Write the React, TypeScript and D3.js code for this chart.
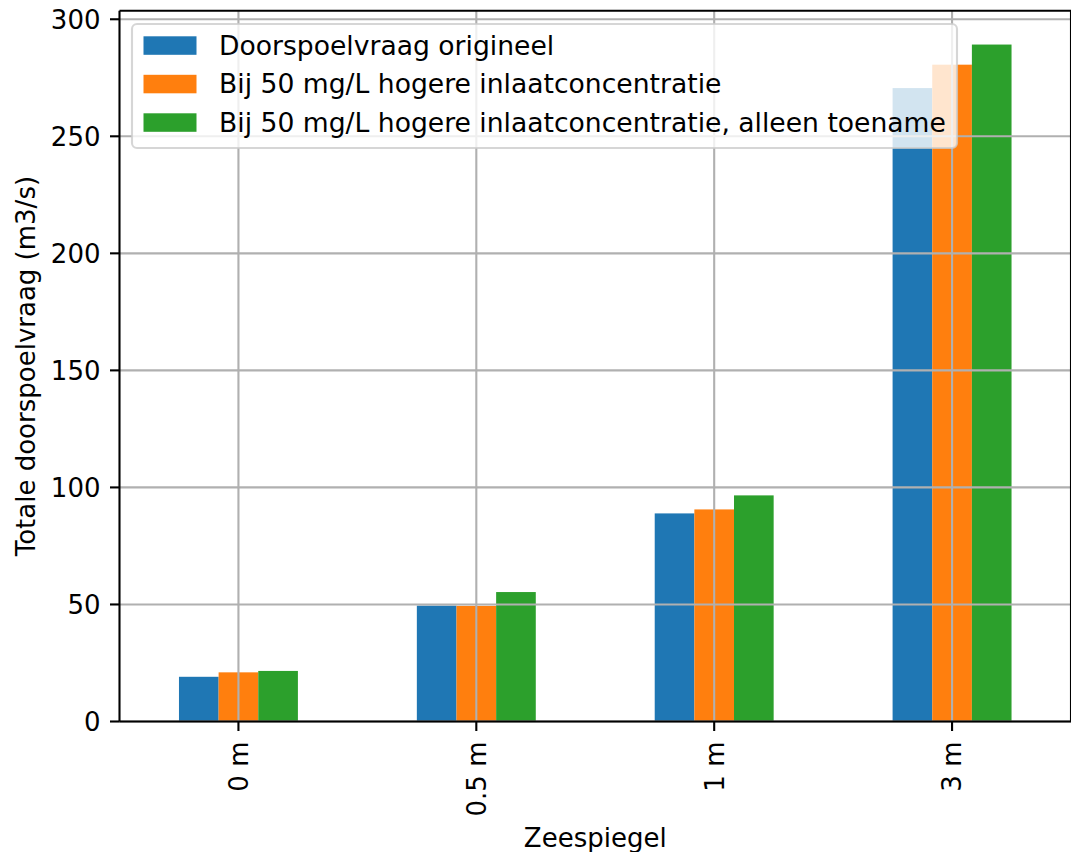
import React from "react";
import * as d3 from "d3";

const categories = ["0 m", "0.5 m", "1 m", "3 m"];
const seriesNames = [
  "Doorspoelvraag origineel",
  "Bij 50 mg/L hogere inlaatconcentratie",
  "Bij 50 mg/L hogere inlaatconcentratie, alleen toename",
];
const origineel = [19.1, 49.5, 88.9, 270.6];
const hoger = [21.0, 49.4, 90.6, 280.6];
const toename = [21.6, 55.3, 96.6, 289.2];
const yTicks = [0, 50, 100, 150, 200, 250, 300];
const colors = ["#1f77b4", "#ff7f0e", "#2ca02c"];

const W = 1071;
const H = 852;
const left = 119.5;
const right = 1071;
const top = 10.7;
const bottom = 721.5;
const FONT = "DejaVu Sans, sans-serif";
const FS = 26;
const LFS = 26.6;

export default function App() {
  const series = [origineel, hoger, toename];
  const maxV = d3.max(series.flat()) as number;
  const y = d3.scaleLinear().domain([0, maxV * 1.05]).range([bottom, top]);
  const x = d3.scaleLinear().domain([-0.5, categories.length - 0.5]).range([left, right]);
  const barW = (0.5 / 3) * (x(1) - x(0));
  const lw = 2.1;
  const tl = 9.5;

  return (
    <div style={{ position: "absolute", left: 0, top: 0 }}>
      <svg width={W} height={H} style={{ display: "block", background: "#fff" }} fontFamily={FONT}>
        {/* bars */}
        {series.map((vals, si) =>
          vals.map((v, ci) => {
            const cx = x(ci);
            const x0 = cx - 1.5 * barW + si * barW;
            return (
              <rect key={`b${si}-${ci}`} x={x0} y={y(v)} width={barW} height={y(0) - y(v)} fill={colors[si]} />
            );
          })
        )}
        {/* grid */}
        {yTicks.map((t) => (
          <line key={`gy${t}`} x1={left} x2={right} y1={y(t)} y2={y(t)} stroke="#b0b0b0" strokeWidth={lw} />
        ))}
        {categories.map((c, i) => (
          <line key={`gx${i}`} x1={x(i)} x2={x(i)} y1={top} y2={bottom} stroke="#b0b0b0" strokeWidth={lw} />
        ))}
        {/* spines */}
        <line x1={left} x2={left} y1={top} y2={bottom} stroke="#000" strokeWidth={lw} />
        <line x1={left} x2={right} y1={bottom} y2={bottom} stroke="#000" strokeWidth={lw} />
        <line x1={left} x2={right} y1={top} y2={top} stroke="#000" strokeWidth={lw} />
        <line x1={right} x2={right} y1={top} y2={bottom} stroke="#000" strokeWidth={lw} />
        {/* y ticks */}
        {yTicks.map((t) => (
          <g key={`ty${t}`}>
            <line x1={left - tl} x2={left} y1={y(t)} y2={y(t)} stroke="#000" strokeWidth={lw} />
            <text x={left - 19} y={y(t)} dy="0.36em" textAnchor="end" fontSize={FS} fill="#000">
              {t}
            </text>
          </g>
        ))}
        {/* x ticks */}
        {categories.map((c, i) => (
          <g key={`tx${i}`}>
            <line x1={x(i)} x2={x(i)} y1={bottom} y2={bottom + tl} stroke="#000" strokeWidth={lw} />
            <text
              transform={`translate(${x(i)},${bottom + 20}) rotate(-90)`}
              textAnchor="end"
              dy="0.36em"
              fontSize={FS}
              fill="#000"
            >
              {c}
            </text>
          </g>
        ))}
        {/* axis labels */}
        <text x={(left + right) / 2} y={847} textAnchor="middle" fontSize={FS} fill="#000">
          Zeespiegel
        </text>
        <text
          transform={`translate(35,${(top + bottom) / 2}) rotate(-90)`}
          textAnchor="middle"
          fontSize={FS}
          fill="#000"
        >
          Totale doorspoelvraag (m3/s)
        </text>
        {/* legend */}
        <rect x={132} y={24} width={825} height={124} rx={5} fill="#fff" fillOpacity={0.8} stroke="#cccccc" strokeOpacity={0.8} strokeWidth={2.1} />
        {seriesNames.map((n, i) => {
          const cy = 45.3 + i * 38.5;
          return (
            <g key={`lg${i}`}>
              <rect x={143.5} y={cy - 9} width={53} height={18.5} fill={colors[i]} />
              <text x={219} y={cy} dy="0.36em" fontSize={LFS} fill="#000">
                {n}
              </text>
            </g>
          );
        })}
      </svg>
    </div>
  );
}
